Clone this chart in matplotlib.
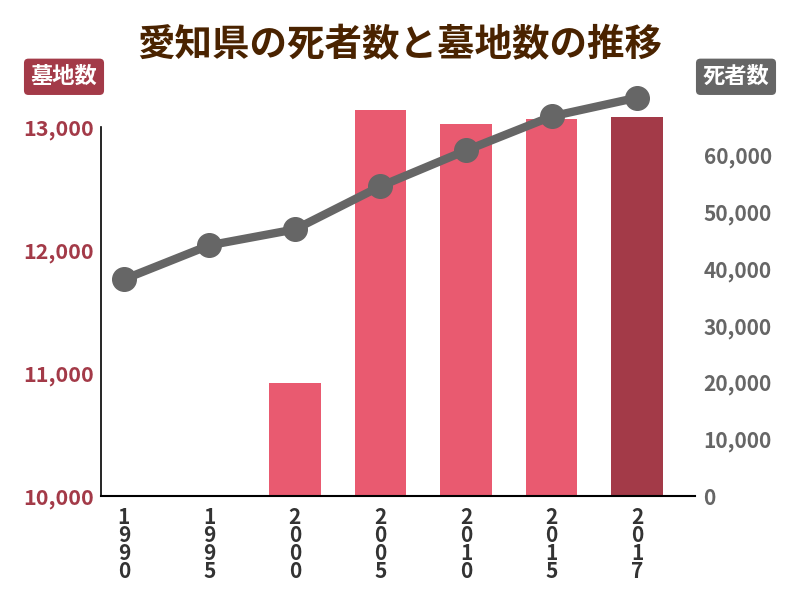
import numpy as np
import matplotlib
matplotlib.use("Agg")
from matplotlib import pyplot as plt

plt.rcParams['font.family'] = ['Noto Sans CJK JP', 'DejaVu Sans']

years = ['1990', '1995', '2000', '2005', '2010', '2015', '2017']
graves = np.array([9900, 9900, 10920, 13140, 13030, 13065, 13080])
deaths = [38200, 44200, 47000, 54600, 60900, 66900, 70200]
bar_colors = ['#e95a70'] * 6 + ['#a33a48']

title = '愛知県の死者数と墓地数の推移'
base = 10000

fig = plt.figure(figsize=(8, 6), dpi=100)
ax = fig.add_axes([0.126, 0.173, 0.743, 0.615])
ax2 = ax.twinx()

x = np.arange(len(years))
ax.bar(x, np.clip(graves - base, 0, None), bottom=base, width=0.6,
       color=bar_colors, zorder=1, clip_on=False)
ax.set_ylim(base, 13000)
ax.set_xlim(-0.27, 6.68)
ax.set_yticks([10000, 11000, 12000, 13000])
ax.set_yticklabels(['{:,}'.format(v) for v in [10000, 11000, 12000, 13000]])
ax.set_xticks(x)
ax.set_xticklabels(['\n'.join(y) for y in years], linespacing=0.82)
ax.tick_params(axis='x', length=0, colors='#333333', labelsize=15, pad=8)
ax.tick_params(axis='y', length=0, colors='#a33a48', labelsize=15.5, pad=5)
for lab in ax.get_yticklabels() + ax.get_xticklabels():
    lab.set_fontweight('bold')

ax2.plot(x, deaths, color='#666666', lw=6, marker='o', ms=17, clip_on=False, zorder=3)
ax2.set_ylim(0, 65000)
ax2.set_yticks(range(0, 70000, 10000))
ax2.set_yticklabels(['{:,}'.format(v) for v in range(0, 70000, 10000)])
ax2.tick_params(axis='y', length=0, colors='#666666', labelsize=15, pad=6)
for lab in ax2.get_yticklabels():
    lab.set_fontweight('bold')

for a in (ax, ax2):
    a.spines['top'].set_visible(False)
    a.spines['right'].set_visible(False)
ax2.spines['left'].set_visible(False)
ax2.spines['bottom'].set_visible(False)
ax.spines['left'].set_linewidth(1.2)
ax.spines['bottom'].set_linewidth(1.5)

fig.text(0.5, 0.925, title, ha='center', va='center', fontsize=27,
         fontweight='bold', color='#4a2300')
fig.text(0.08, 0.872, '墓地数', ha='center', va='center', fontsize=16,
         fontweight='bold', color='white',
         bbox=dict(boxstyle='round,pad=0.3,rounding_size=0.2', fc='#a33a48', ec='none'))
fig.text(0.92, 0.872, '死者数', ha='center', va='center', fontsize=16,
         fontweight='bold', color='white',
         bbox=dict(boxstyle='round,pad=0.3,rounding_size=0.2', fc='#666666', ec='none'))

fig.savefig('out.png', dpi=100)
